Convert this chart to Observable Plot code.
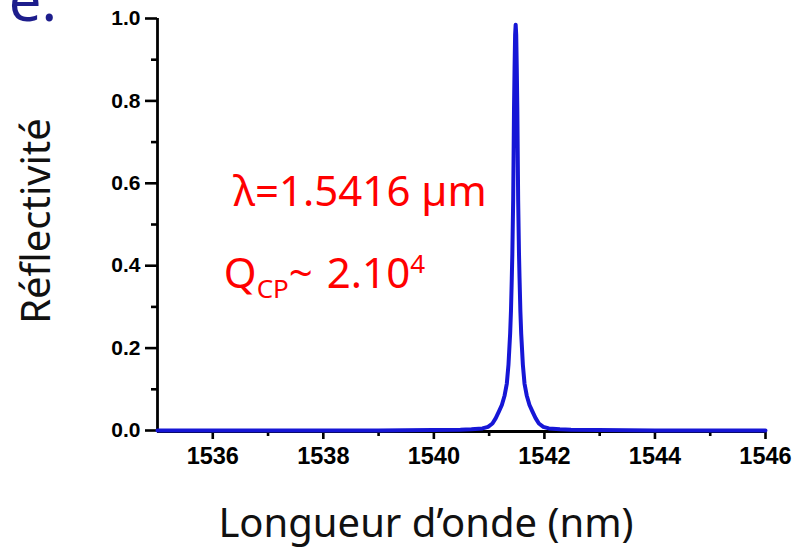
<!DOCTYPE html>
<html><head><meta charset="utf-8">
<script src="https://cdn.jsdelivr.net/npm/d3@7"></script>
<script src="https://cdn.jsdelivr.net/npm/@observablehq/plot@0.6"></script>
<style>
html,body{margin:0;padding:0;background:#fff;}
#chart{position:relative;width:809px;height:549px;overflow:hidden;}
#chart svg{display:block;}
#chart svg g[aria-label="x-axis tick"], #chart svg g[aria-label="y-axis tick"] {stroke-width: 2.6px; stroke: #000;}
#chart svg g[aria-label="x-axis tick"] path, #chart svg g[aria-label="y-axis tick"] path {stroke-width: 2.6px;}
#chart svg g[aria-label="x-axis tick label"] text {font-family: "Liberation Sans", Arial, sans-serif !important; font-weight: bold !important; font-size: 23.5px !important;}
#chart svg g[aria-label="y-axis tick label"] text {font-family: "Liberation Sans", Arial, sans-serif !important; font-weight: bold !important; font-size: 21px !important;}
</style></head><body><div id="chart"></div>
<script>
// Spectrum (nm, reflectivity)
const wavelength = [1535, 1536, 1537, 1538, 1539, 1539.48, 1539.98, 1540.48, 1540.68, 1540.88,
  1540.98, 1541.06, 1541.12, 1541.18, 1541.23, 1541.28, 1541.32, 1541.35, 1541.38, 1541.395,
  1541.41, 1541.42, 1541.435, 1541.45, 1541.46, 1541.47, 1541.48,
  1541.49, 1541.50, 1541.51, 1541.525, 1541.54, 1541.55, 1541.565, 1541.58, 1541.61, 1541.64,
  1541.68, 1541.73, 1541.78, 1541.84, 1541.90, 1541.98, 1542.08, 1542.28, 1542.48, 1542.98,
  1543.48, 1544, 1545, 1546];
const reflectivity = [0, 0, 0.0001, 0.0002, 0.0003, 0.0005, 0.001, 0.002, 0.003, 0.005,
  0.009, 0.017, 0.03, 0.047, 0.062, 0.085, 0.114, 0.16, 0.235, 0.29,
  0.37, 0.43, 0.56, 0.78, 0.88, 0.96, 0.985,
  0.96, 0.88, 0.78, 0.56, 0.43, 0.37, 0.29, 0.235, 0.16, 0.114,
  0.085, 0.062, 0.047, 0.03, 0.017, 0.009, 0.005, 0.003, 0.002, 0.001,
  0.0005, 0.0003, 0.0002, 0.0001];

const xDomain = [1535, 1546];
const yDomain = [0, 1];
const xMajorTicks = [1536, 1538, 1540, 1542, 1544, 1546];
const xMinorTicks = [1537, 1539, 1541, 1543, 1545];
const yMajorTicks = [0, 0.2, 0.4, 0.6, 0.8, 1.0];
const yMinorTicks = [0.1, 0.3, 0.5, 0.7, 0.9];
const xTitle = "Longueur d’onde (nm)";
const yTitle = "Réflectivité";
const slideTitleFragment = "re.";
const annotX = [1536.37, 1536.2];
const annotY = [0.546, 0.345];
const annotText = ["λ=1.5416 µm", "Q_CP~ 2.10^4"];

const data = wavelength.map((w, i) => ({w, r: reflectivity[i]}));
const annots = annotText.map((t, i) => ({x: annotX[i], y: annotY[i], t}));

const tickFont = {fontFamily: "Liberation Sans, Arial, sans-serif", fontWeight: "bold"};

const svg = Plot.plot({
  width: 809, height: 549,
  marginLeft: 157, marginRight: 44, marginTop: 18, marginBottom: 119,
  x: {domain: xDomain},
  y: {domain: yDomain},
  style: {background: "transparent", color: "#000", overflow: "visible"},
  marks: [
    Plot.axisX({ticks: xMinorTicks, tickSize: 6, tickFormat: () => "", strokeWidth: 2.6, label: null}),
    Plot.axisX({ticks: xMajorTicks, tickSize: 9, tickPadding: 8, tickFormat: d => String(d),
      fontSize: 23.5, ...tickFont, strokeWidth: 2.6, label: null}),
    Plot.axisY({ticks: yMinorTicks, tickSize: 6, tickFormat: () => "", strokeWidth: 2.6, label: null}),
    Plot.axisY({ticks: yMajorTicks, tickSize: 12, tickPadding: 5, tickFormat: d => d.toFixed(1),
      fontSize: 21, ...tickFont, strokeWidth: 2.6, label: null}),
    Plot.ruleX([xDomain[0]], {stroke: "#000", strokeWidth: 2.8}),
    Plot.ruleY([yDomain[0]], {stroke: "#000", strokeWidth: 2.8, dy: 1}),
    Plot.line(data, {x: "w", y: "r", stroke: "#1616d6", strokeWidth: 4, strokeLinejoin: "round", strokeLinecap: "round"}),
    Plot.text(annots, {x: "x", y: "y", text: "t", textAnchor: "start", lineAnchor: "bottom",
      fill: "#ff0000", fontSize: 42, fontFamily: "Noto Sans, sans-serif"})
  ]
});

document.getElementById("chart").appendChild(svg);
const s = d3.select(svg);

// sub/superscripts in the Q annotation
s.selectAll("text").filter(function() { return this.textContent === annotText[1]; }).each(function() {
  const t = d3.select(this);
  t.text(null);
  t.append("tspan").text("Q");
  t.append("tspan").attr("font-size", 26).attr("dy", 10).text("CP");
  t.append("tspan").attr("dy", -10).text("~");
  t.append("tspan").attr("dx", 14).text("2.10");
  t.append("tspan").attr("font-size", 26).attr("dy", -15).text("4");
});

// axis titles
s.append("text").attr("x", 426).attr("y", 537).attr("text-anchor", "middle")
  .attr("font-family", "Noto Sans, sans-serif").attr("font-size", 40).attr("fill", "#111")
  .text(xTitle);
s.append("text").attr("transform", "translate(50,221) rotate(-90)").attr("text-anchor", "middle")
  .attr("font-family", "Noto Sans, sans-serif").attr("font-size", 40).attr("fill", "#111")
  .text(yTitle);
// fragment of slide title cut at top-left
s.append("text").attr("x", 57).attr("y", 21).attr("text-anchor", "end")
  .attr("font-family", "Noto Sans, sans-serif").attr("font-size", 58).attr("fill", "#1d1d8c")
  .text(slideTitleFragment);
</script>
</body></html>
